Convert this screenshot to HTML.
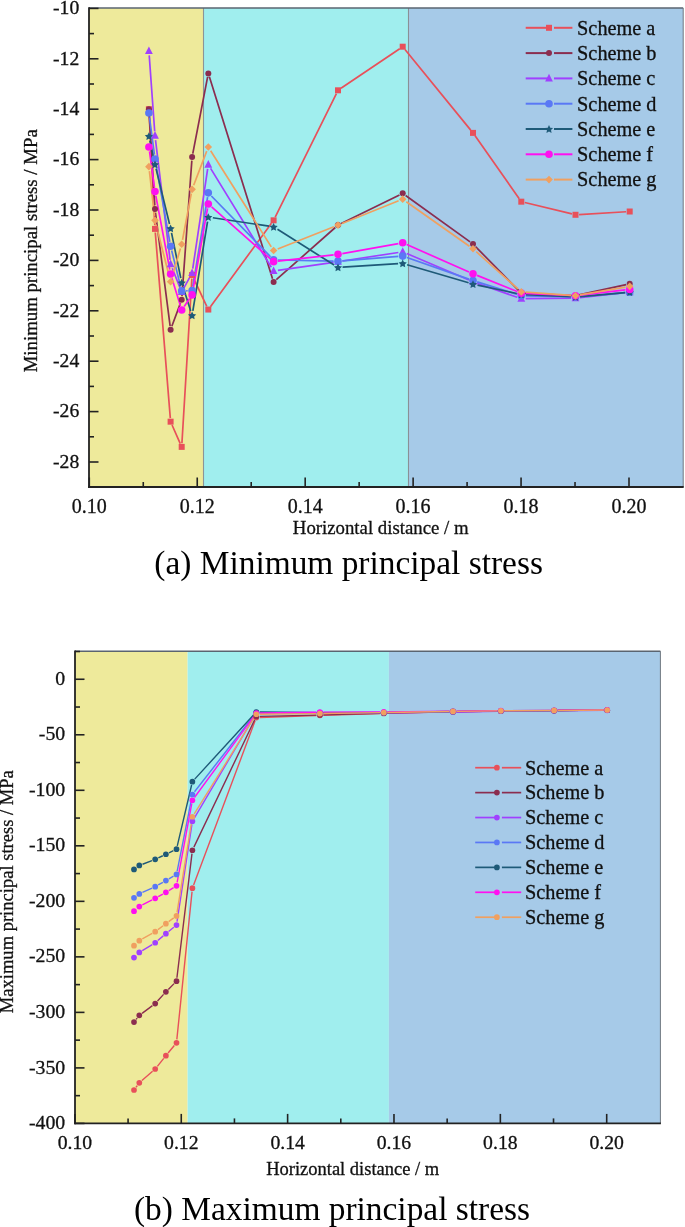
<!DOCTYPE html>
<html><head><meta charset="utf-8"><title>Principal stress charts</title>
<style>
html,body{margin:0;padding:0;background:#fff;}
body{width:685px;height:1227px;overflow:hidden;}
svg{display:block;will-change:transform;filter:blur(0.35px);}
text{font-family:"Liberation Serif", serif;fill:#000;}
.ct text{fill:#111;stroke:#111;stroke-width:0.3px;}
</style></head>
<body>
<svg width="685" height="1227" viewBox="0 0 685 1227">
<rect width="685" height="1227" fill="#fff"/>
<g class="ct">
<rect x="89.0" y="8.0" width="114.5" height="479.0" fill="#EEEA9B"/>
<rect x="203.5" y="8.0" width="205.0" height="479.0" fill="#A0EEEE"/>
<rect x="408.5" y="8.0" width="274.70000000000005" height="479.0" fill="#A6CAE8"/>
<line x1="203.5" y1="8.0" x2="203.5" y2="487.0" stroke="#8c9498" stroke-width="1.1"/>
<line x1="408.5" y1="8.0" x2="408.5" y2="487.0" stroke="#8a9096" stroke-width="1.1"/>
<line x1="89.0" y1="8.0" x2="683.2" y2="8.0" stroke="#5a6470" stroke-width="1.4"/>
<line x1="683.2" y1="8.0" x2="683.2" y2="487.0" stroke="#707880" stroke-width="1"/>
<path d="M149.08,112.80L154.82,225.30M155.29,232.49L170.31,418.09M172.05,424.97L180.25,443.59M181.92,443.29L191.88,278.61M193.63,278.28L206.77,306.28M210.43,306.64L271.47,223.24M275.20,217.11L336.40,93.53M340.99,88.29L399.71,48.72M404.98,49.49L470.72,130.10M475.07,135.83L519.23,198.74M524.80,202.53L572.00,213.94M579.09,214.57L626.11,211.73" fill="none" stroke="#E8505A" stroke-width="1.7" stroke-linecap="butt"/>
<path d="M149.12,112.79L154.78,205.40M155.46,212.56L170.14,326.13M171.85,326.32L180.45,303.09M181.96,296.12L191.84,160.67M192.78,153.55L207.62,76.95M209.38,76.85L272.52,278.64M276.30,279.69L335.30,227.50M341.23,223.53L399.47,194.95M405.62,195.47L470.08,241.92M475.52,246.59L518.78,290.59M524.90,293.33L571.90,295.51M579.02,294.91L626.18,284.60" fill="none" stroke="#8B2D4F" stroke-width="1.7" stroke-linecap="butt"/>
<path d="M149.22,55.38L154.68,131.27M155.53,140.03L170.07,259.81M172.24,268.26L180.06,287.82M183.82,288.05L189.98,276.85M192.75,268.65L207.65,168.99M210.60,168.39L271.30,267.23M277.95,270.35L333.65,262.29M342.35,261.00L398.35,252.49M406.75,253.56L468.95,280.09M477.15,283.27L517.15,297.25M525.70,298.66L571.10,298.24M579.87,297.71L625.33,292.64" fill="none" stroke="#A040FF" stroke-width="1.7" stroke-linecap="butt"/>
<path d="M149.48,117.34L154.42,154.73M155.77,163.43L169.83,241.96M171.66,250.56L180.64,286.62M186.10,290.79L187.70,290.75M192.82,286.30L207.58,197.20M211.37,196.02L270.53,256.74M278.00,259.98L333.60,261.07M342.39,260.81L398.31,256.46M406.86,257.56L468.84,279.11M477.20,281.87L517.10,294.37M525.70,295.78L571.10,296.84M579.88,296.55L625.32,292.54" fill="none" stroke="#5A78F5" stroke-width="1.7" stroke-linecap="butt"/>
<path d="M149.87,140.66L154.03,159.89M156.09,168.86L169.51,223.93M171.52,232.90L180.78,278.07M183.09,286.96L190.71,310.95M192.85,310.80L207.55,221.59M212.85,217.74L269.05,226.20M277.49,229.34L334.11,265.00M342.59,267.17L398.11,263.71M407.11,264.72L468.59,282.79M477.50,285.05L516.80,293.46M525.90,294.63L570.90,296.73M580.08,296.54L625.12,292.56" fill="none" stroke="#1E5A78" stroke-width="1.7" stroke-linecap="butt"/>
<path d="M149.50,151.36L154.40,187.24M155.82,195.93L169.78,269.68M171.90,278.21L180.40,305.84M184.19,306.42L189.61,298.55M192.87,290.59L207.53,208.28M211.60,206.87L270.30,258.75M277.97,261.16L333.63,254.85M342.33,253.58L398.37,243.54M406.73,244.54L468.97,271.98M477.08,275.40L517.22,291.52M525.70,293.36L571.10,295.48M579.87,295.17L625.33,289.89" fill="none" stroke="#FF10F0" stroke-width="1.7" stroke-linecap="butt"/>
<path d="M149.40,171.03L154.50,215.96M156.08,224.60L169.52,277.56M171.85,277.60L180.45,248.49M182.52,239.95L191.28,193.66M193.67,185.23L206.73,151.11M210.65,150.72L271.25,246.85M277.69,248.95L333.91,226.74M342.08,223.48L398.62,200.80M406.29,201.70L469.41,246.27M476.28,251.74L518.02,288.97M525.69,292.21L571.11,295.37M579.84,294.93L625.36,287.10" fill="none" stroke="#F0A060" stroke-width="1.7" stroke-linecap="butt"/>
<rect x="145.90" y="106.20" width="6.00" height="6.00" fill="#E8505A"/>
<rect x="152.00" y="225.90" width="6.00" height="6.00" fill="#E8505A"/>
<rect x="167.60" y="418.68" width="6.00" height="6.00" fill="#E8505A"/>
<rect x="178.70" y="443.88" width="6.00" height="6.00" fill="#E8505A"/>
<rect x="189.10" y="272.02" width="6.00" height="6.00" fill="#E8505A"/>
<rect x="205.30" y="306.54" width="6.00" height="6.00" fill="#E8505A"/>
<rect x="270.60" y="217.33" width="6.00" height="6.00" fill="#E8505A"/>
<rect x="335.00" y="87.30" width="6.00" height="6.00" fill="#E8505A"/>
<rect x="399.70" y="43.70" width="6.00" height="6.00" fill="#E8505A"/>
<rect x="470.00" y="129.89" width="6.00" height="6.00" fill="#E8505A"/>
<rect x="518.30" y="198.68" width="6.00" height="6.00" fill="#E8505A"/>
<rect x="572.50" y="211.79" width="6.00" height="6.00" fill="#E8505A"/>
<rect x="626.70" y="208.51" width="6.00" height="6.00" fill="#E8505A"/>
<circle cx="148.90" cy="109.20" r="3.00" fill="#8B2D4F"/>
<circle cx="155.00" cy="208.99" r="3.00" fill="#8B2D4F"/>
<circle cx="170.60" cy="329.70" r="3.00" fill="#8B2D4F"/>
<circle cx="181.70" cy="299.71" r="3.00" fill="#8B2D4F"/>
<circle cx="192.10" cy="157.08" r="3.00" fill="#8B2D4F"/>
<circle cx="208.30" cy="73.42" r="3.00" fill="#8B2D4F"/>
<circle cx="273.60" cy="282.07" r="3.00" fill="#8B2D4F"/>
<circle cx="338.00" cy="225.12" r="3.00" fill="#8B2D4F"/>
<circle cx="402.70" cy="193.37" r="3.00" fill="#8B2D4F"/>
<circle cx="473.00" cy="244.02" r="3.00" fill="#8B2D4F"/>
<circle cx="521.30" cy="293.16" r="3.00" fill="#8B2D4F"/>
<circle cx="575.50" cy="295.68" r="3.00" fill="#8B2D4F"/>
<circle cx="629.70" cy="283.84" r="3.00" fill="#8B2D4F"/>
<path d="M148.90,46.39 L152.80,53.99 L145.00,53.99Z" fill="#A040FF"/>
<path d="M155.00,131.06 L158.90,138.66 L151.10,138.66Z" fill="#A040FF"/>
<path d="M170.60,259.58 L174.50,267.18 L166.70,267.18Z" fill="#A040FF"/>
<path d="M181.70,287.30 L185.60,294.90 L177.80,294.90Z" fill="#A040FF"/>
<path d="M192.10,268.40 L196.00,276.00 L188.20,276.00Z" fill="#A040FF"/>
<path d="M208.30,160.04 L212.20,167.64 L204.40,167.64Z" fill="#A040FF"/>
<path d="M273.60,266.38 L277.50,273.98 L269.70,273.98Z" fill="#A040FF"/>
<path d="M338.00,257.06 L341.90,264.66 L334.10,264.66Z" fill="#A040FF"/>
<path d="M402.70,247.23 L406.60,254.83 L398.80,254.83Z" fill="#A040FF"/>
<path d="M473.00,277.22 L476.90,284.82 L469.10,284.82Z" fill="#A040FF"/>
<path d="M521.30,294.10 L525.20,301.70 L517.40,301.70Z" fill="#A040FF"/>
<path d="M575.50,293.60 L579.40,301.20 L571.60,301.20Z" fill="#A040FF"/>
<path d="M629.70,287.55 L633.60,295.15 L625.80,295.15Z" fill="#A040FF"/>
<circle cx="148.90" cy="112.98" r="3.80" fill="#5A78F5"/>
<circle cx="155.00" cy="159.10" r="3.80" fill="#5A78F5"/>
<circle cx="170.60" cy="246.29" r="3.80" fill="#5A78F5"/>
<circle cx="181.70" cy="290.89" r="3.80" fill="#5A78F5"/>
<circle cx="192.10" cy="290.64" r="3.80" fill="#5A78F5"/>
<circle cx="208.30" cy="192.86" r="3.80" fill="#5A78F5"/>
<circle cx="273.60" cy="259.90" r="3.80" fill="#5A78F5"/>
<circle cx="338.00" cy="261.16" r="3.80" fill="#5A78F5"/>
<circle cx="402.70" cy="256.12" r="3.80" fill="#5A78F5"/>
<circle cx="473.00" cy="280.56" r="3.80" fill="#5A78F5"/>
<circle cx="521.30" cy="295.68" r="3.80" fill="#5A78F5"/>
<circle cx="575.50" cy="296.94" r="3.80" fill="#5A78F5"/>
<circle cx="629.70" cy="292.15" r="3.80" fill="#5A78F5"/>
<polygon points="148.90,132.26 150.16,134.82 152.99,135.24 150.94,137.23 151.43,140.04 148.90,138.71 146.37,140.04 146.86,137.23 144.81,135.24 147.64,134.82" fill="#1E5A78"/>
<polygon points="155.00,160.49 156.26,163.05 159.09,163.46 157.04,165.45 157.53,168.27 155.00,166.94 152.47,168.27 152.96,165.45 150.91,163.46 153.74,163.05" fill="#1E5A78"/>
<polygon points="170.60,224.50 171.86,227.06 174.69,227.47 172.64,229.46 173.13,232.27 170.60,230.95 168.07,232.27 168.56,229.46 166.51,227.47 169.34,227.06" fill="#1E5A78"/>
<polygon points="181.70,278.68 182.96,281.24 185.79,281.65 183.74,283.64 184.23,286.45 181.70,285.13 179.17,286.45 179.66,283.64 177.61,281.65 180.44,281.24" fill="#1E5A78"/>
<polygon points="192.10,311.44 193.36,314.00 196.19,314.41 194.14,316.40 194.63,319.21 192.10,317.89 189.57,319.21 190.06,316.40 188.01,314.41 190.84,314.00" fill="#1E5A78"/>
<polygon points="208.30,213.16 209.56,215.72 212.39,216.13 210.34,218.12 210.83,220.93 208.30,219.61 205.77,220.93 206.26,218.12 204.21,216.13 207.04,215.72" fill="#1E5A78"/>
<polygon points="273.60,222.98 274.86,225.54 277.69,225.96 275.64,227.95 276.13,230.76 273.60,229.43 271.07,230.76 271.56,227.95 269.51,225.96 272.34,225.54" fill="#1E5A78"/>
<polygon points="338.00,263.56 339.26,266.12 342.09,266.53 340.04,268.52 340.53,271.33 338.00,270.01 335.47,271.33 335.96,268.52 333.91,266.53 336.74,266.12" fill="#1E5A78"/>
<polygon points="402.70,259.52 403.96,262.08 406.79,262.50 404.74,264.49 405.23,267.30 402.70,265.97 400.17,267.30 400.66,264.49 398.61,262.50 401.44,262.08" fill="#1E5A78"/>
<polygon points="473.00,280.19 474.26,282.75 477.09,283.16 475.04,285.15 475.53,287.97 473.00,286.64 470.47,287.97 470.96,285.15 468.91,283.16 471.74,282.75" fill="#1E5A78"/>
<polygon points="521.30,290.52 522.56,293.08 525.39,293.49 523.34,295.48 523.83,298.30 521.30,296.97 518.77,298.30 519.26,295.48 517.21,293.49 520.04,293.08" fill="#1E5A78"/>
<polygon points="575.50,293.04 576.76,295.60 579.59,296.01 577.54,298.00 578.03,300.82 575.50,299.49 572.97,300.82 573.46,298.00 571.41,296.01 574.24,295.60" fill="#1E5A78"/>
<polygon points="629.70,288.25 630.96,290.81 633.79,291.22 631.74,293.22 632.23,296.03 629.70,294.70 627.17,296.03 627.66,293.22 625.61,291.22 628.44,290.81" fill="#1E5A78"/>
<circle cx="148.90" cy="147.00" r="3.80" fill="#FF10F0"/>
<circle cx="155.00" cy="191.60" r="3.80" fill="#FF10F0"/>
<circle cx="170.60" cy="274.01" r="3.80" fill="#FF10F0"/>
<circle cx="181.70" cy="310.04" r="3.80" fill="#FF10F0"/>
<circle cx="192.10" cy="294.92" r="3.80" fill="#FF10F0"/>
<circle cx="208.30" cy="203.95" r="3.80" fill="#FF10F0"/>
<circle cx="273.60" cy="261.66" r="3.80" fill="#FF10F0"/>
<circle cx="338.00" cy="254.35" r="3.80" fill="#FF10F0"/>
<circle cx="402.70" cy="242.76" r="3.80" fill="#FF10F0"/>
<circle cx="473.00" cy="273.76" r="3.80" fill="#FF10F0"/>
<circle cx="521.30" cy="293.16" r="3.80" fill="#FF10F0"/>
<circle cx="575.50" cy="295.68" r="3.80" fill="#FF10F0"/>
<circle cx="629.70" cy="289.38" r="3.80" fill="#FF10F0"/>
<path d="M148.90,162.86 L152.70,166.66 L148.90,170.46 L145.10,166.66Z" fill="#F0A060"/>
<path d="M155.00,216.53 L158.80,220.33 L155.00,224.13 L151.20,220.33Z" fill="#F0A060"/>
<path d="M170.60,278.02 L174.40,281.82 L170.60,285.62 L166.80,281.82Z" fill="#F0A060"/>
<path d="M181.70,240.47 L185.50,244.27 L181.70,248.07 L177.90,244.27Z" fill="#F0A060"/>
<path d="M192.10,185.54 L195.90,189.34 L192.10,193.14 L188.30,189.34Z" fill="#F0A060"/>
<path d="M208.30,143.20 L212.10,147.00 L208.30,150.80 L204.50,147.00Z" fill="#F0A060"/>
<path d="M273.60,246.77 L277.40,250.57 L273.60,254.37 L269.80,250.57Z" fill="#F0A060"/>
<path d="M338.00,221.32 L341.80,225.12 L338.00,228.92 L334.20,225.12Z" fill="#F0A060"/>
<path d="M402.70,195.36 L406.50,199.16 L402.70,202.96 L398.90,199.16Z" fill="#F0A060"/>
<path d="M473.00,245.01 L476.80,248.81 L473.00,252.61 L469.20,248.81Z" fill="#F0A060"/>
<path d="M521.30,288.10 L525.10,291.90 L521.30,295.70 L517.50,291.90Z" fill="#F0A060"/>
<path d="M575.50,291.88 L579.30,295.68 L575.50,299.48 L571.70,295.68Z" fill="#F0A060"/>
<path d="M629.70,282.56 L633.50,286.36 L629.70,290.16 L625.90,286.36Z" fill="#F0A060"/>
<line x1="89.0" y1="7.3" x2="89.0" y2="487.9" stroke="#222" stroke-width="1.8"/>
<line x1="88.1" y1="487.0" x2="683.7" y2="487.0" stroke="#222" stroke-width="1.8"/>
<line x1="89.0" y1="8.40" x2="98.5" y2="8.40" stroke="#222" stroke-width="1.6"/>
<line x1="89.0" y1="58.80" x2="98.5" y2="58.80" stroke="#222" stroke-width="1.6"/>
<line x1="89.0" y1="109.20" x2="98.5" y2="109.20" stroke="#222" stroke-width="1.6"/>
<line x1="89.0" y1="159.60" x2="98.5" y2="159.60" stroke="#222" stroke-width="1.6"/>
<line x1="89.0" y1="210.00" x2="98.5" y2="210.00" stroke="#222" stroke-width="1.6"/>
<line x1="89.0" y1="260.40" x2="98.5" y2="260.40" stroke="#222" stroke-width="1.6"/>
<line x1="89.0" y1="310.80" x2="98.5" y2="310.80" stroke="#222" stroke-width="1.6"/>
<line x1="89.0" y1="361.20" x2="98.5" y2="361.20" stroke="#222" stroke-width="1.6"/>
<line x1="89.0" y1="411.60" x2="98.5" y2="411.60" stroke="#222" stroke-width="1.6"/>
<line x1="89.0" y1="462.00" x2="98.5" y2="462.00" stroke="#222" stroke-width="1.6"/>
<line x1="89.0" y1="33.60" x2="94.0" y2="33.60" stroke="#222" stroke-width="1.6"/>
<line x1="89.0" y1="84.00" x2="94.0" y2="84.00" stroke="#222" stroke-width="1.6"/>
<line x1="89.0" y1="134.40" x2="94.0" y2="134.40" stroke="#222" stroke-width="1.6"/>
<line x1="89.0" y1="184.80" x2="94.0" y2="184.80" stroke="#222" stroke-width="1.6"/>
<line x1="89.0" y1="235.20" x2="94.0" y2="235.20" stroke="#222" stroke-width="1.6"/>
<line x1="89.0" y1="285.60" x2="94.0" y2="285.60" stroke="#222" stroke-width="1.6"/>
<line x1="89.0" y1="336.00" x2="94.0" y2="336.00" stroke="#222" stroke-width="1.6"/>
<line x1="89.0" y1="386.40" x2="94.0" y2="386.40" stroke="#222" stroke-width="1.6"/>
<line x1="89.0" y1="436.80" x2="94.0" y2="436.80" stroke="#222" stroke-width="1.6"/>
<line x1="89.0" y1="487.20" x2="94.0" y2="487.20" stroke="#222" stroke-width="1.6"/>
<line x1="89.30" y1="487.0" x2="89.30" y2="477.5" stroke="#222" stroke-width="1.6"/>
<line x1="143.27" y1="487.0" x2="143.27" y2="482.0" stroke="#222" stroke-width="1.6"/>
<line x1="197.24" y1="487.0" x2="197.24" y2="477.5" stroke="#222" stroke-width="1.6"/>
<line x1="251.21" y1="487.0" x2="251.21" y2="482.0" stroke="#222" stroke-width="1.6"/>
<line x1="305.18" y1="487.0" x2="305.18" y2="477.5" stroke="#222" stroke-width="1.6"/>
<line x1="359.15" y1="487.0" x2="359.15" y2="482.0" stroke="#222" stroke-width="1.6"/>
<line x1="413.12" y1="487.0" x2="413.12" y2="477.5" stroke="#222" stroke-width="1.6"/>
<line x1="467.09" y1="487.0" x2="467.09" y2="482.0" stroke="#222" stroke-width="1.6"/>
<line x1="521.06" y1="487.0" x2="521.06" y2="477.5" stroke="#222" stroke-width="1.6"/>
<line x1="575.03" y1="487.0" x2="575.03" y2="482.0" stroke="#222" stroke-width="1.6"/>
<line x1="629.00" y1="487.0" x2="629.00" y2="477.5" stroke="#222" stroke-width="1.6"/>
<text x="79.30" y="14.20" font-size="19.7" text-anchor="end" >-10</text>
<text x="79.30" y="64.60" font-size="19.7" text-anchor="end" >-12</text>
<text x="79.30" y="115.00" font-size="19.7" text-anchor="end" >-14</text>
<text x="79.30" y="165.40" font-size="19.7" text-anchor="end" >-16</text>
<text x="79.30" y="215.80" font-size="19.7" text-anchor="end" >-18</text>
<text x="79.30" y="266.20" font-size="19.7" text-anchor="end" >-20</text>
<text x="79.30" y="316.60" font-size="19.7" text-anchor="end" >-22</text>
<text x="79.30" y="367.00" font-size="19.7" text-anchor="end" >-24</text>
<text x="79.30" y="417.40" font-size="19.7" text-anchor="end" >-26</text>
<text x="79.30" y="467.80" font-size="19.7" text-anchor="end" >-28</text>
<text x="89.30" y="513.00" font-size="20.0" text-anchor="middle" >0.10</text>
<text x="197.24" y="513.00" font-size="20.0" text-anchor="middle" >0.12</text>
<text x="305.18" y="513.00" font-size="20.0" text-anchor="middle" >0.14</text>
<text x="413.12" y="513.00" font-size="20.0" text-anchor="middle" >0.16</text>
<text x="521.06" y="513.00" font-size="20.0" text-anchor="middle" >0.18</text>
<text x="629.00" y="513.00" font-size="20.0" text-anchor="middle" >0.20</text>
<text x="380.70" y="533.60" font-size="18.8" text-anchor="middle" >Horizontal distance / m</text>
<text x="0" y="0" font-size="18.8" text-anchor="middle" transform="translate(37.1,250.8) rotate(-90)">Minimum principal stress / MPa</text>
<line x1="525.7" y1="27.80" x2="549.0" y2="27.80" stroke="#E8505A" stroke-width="2.0"/>
<line x1="554.00" y1="27.80" x2="572.4" y2="27.80" stroke="#E8505A" stroke-width="2.0"/>
<rect x="546.00" y="24.80" width="6.00" height="6.00" fill="#E8505A"/>
<text x="577.10" y="34.60" font-size="20.3" text-anchor="start" >Scheme a</text>
<line x1="525.7" y1="53.10" x2="549.0" y2="53.10" stroke="#8B2D4F" stroke-width="2.0"/>
<line x1="554.00" y1="53.10" x2="572.4" y2="53.10" stroke="#8B2D4F" stroke-width="2.0"/>
<circle cx="549.00" cy="53.10" r="3.00" fill="#8B2D4F"/>
<text x="577.10" y="59.90" font-size="20.3" text-anchor="start" >Scheme b</text>
<line x1="525.7" y1="78.40" x2="549.0" y2="78.40" stroke="#A040FF" stroke-width="2.0"/>
<line x1="554.00" y1="78.40" x2="572.4" y2="78.40" stroke="#A040FF" stroke-width="2.0"/>
<path d="M549.00,73.80 L552.90,81.40 L545.10,81.40Z" fill="#A040FF"/>
<text x="577.10" y="85.20" font-size="20.3" text-anchor="start" >Scheme c</text>
<line x1="525.7" y1="103.70" x2="549.0" y2="103.70" stroke="#5A78F5" stroke-width="2.0"/>
<line x1="554.00" y1="103.70" x2="572.4" y2="103.70" stroke="#5A78F5" stroke-width="2.0"/>
<circle cx="549.00" cy="103.70" r="3.80" fill="#5A78F5"/>
<text x="577.10" y="110.50" font-size="20.3" text-anchor="start" >Scheme d</text>
<line x1="525.7" y1="129.00" x2="549.0" y2="129.00" stroke="#1E5A78" stroke-width="2.0"/>
<line x1="554.00" y1="129.00" x2="572.4" y2="129.00" stroke="#1E5A78" stroke-width="2.0"/>
<polygon points="549.00,125.10 550.26,127.66 553.09,128.07 551.04,130.06 551.53,132.88 549.00,131.55 546.47,132.88 546.96,130.06 544.91,128.07 547.74,127.66" fill="#1E5A78"/>
<text x="577.10" y="135.80" font-size="20.3" text-anchor="start" >Scheme e</text>
<line x1="525.7" y1="154.30" x2="549.0" y2="154.30" stroke="#FF10F0" stroke-width="2.0"/>
<line x1="554.00" y1="154.30" x2="572.4" y2="154.30" stroke="#FF10F0" stroke-width="2.0"/>
<circle cx="549.00" cy="154.30" r="3.80" fill="#FF10F0"/>
<text x="577.10" y="161.10" font-size="20.3" text-anchor="start" >Scheme f</text>
<line x1="525.7" y1="179.60" x2="549.0" y2="179.60" stroke="#F0A060" stroke-width="2.0"/>
<line x1="554.00" y1="179.60" x2="572.4" y2="179.60" stroke="#F0A060" stroke-width="2.0"/>
<path d="M549.00,175.80 L552.80,179.60 L549.00,183.40 L545.20,179.60Z" fill="#F0A060"/>
<text x="577.10" y="186.40" font-size="20.3" text-anchor="start" >Scheme g</text>
<rect x="75.0" y="651.2" width="112.6" height="472.20000000000005" fill="#EEEA9B"/>
<rect x="187.6" y="651.2" width="201.29999999999998" height="472.20000000000005" fill="#A0EEEE"/>
<rect x="388.9" y="651.2" width="271.5" height="472.20000000000005" fill="#A6CAE8"/>
<line x1="75.0" y1="651.2" x2="660.4" y2="651.2" stroke="#5a6470" stroke-width="1.4"/>
<line x1="660.4" y1="651.2" x2="660.4" y2="1123.4" stroke="#707880" stroke-width="1"/>
<path d="M136.04,1087.22L137.26,1085.56M141.91,1080.52L152.59,1071.27M157.36,1066.32L163.74,1058.38M168.09,1053.02L174.31,1045.47M176.85,1039.37L192.05,891.56M193.61,884.90L255.09,720.80M259.75,717.45L316.45,715.47M323.35,715.25L380.35,713.56M387.25,713.38L449.55,711.88M456.45,711.74L497.45,711.07M504.35,710.99L550.65,710.60M557.55,710.54L603.75,710.16" fill="none" stroke="#E8505A" stroke-width="1.4" stroke-linecap="butt"/>
<path d="M136.15,1019.34L137.15,1018.08M142.07,1013.33L152.43,1005.66M157.52,1001.06L163.58,994.39M168.33,989.39L174.07,983.62M176.92,977.75L191.98,853.69M193.89,847.15L254.81,719.57M259.75,716.38L316.45,715.09M323.35,714.92L380.35,713.33M387.25,713.17L449.55,711.87M456.45,711.74L497.45,711.07M504.35,710.99L550.65,710.60M557.55,710.54L603.75,710.16" fill="none" stroke="#8B2D4F" stroke-width="1.4" stroke-linecap="butt"/>
<path d="M142.25,950.63L152.25,944.55M157.83,940.52L163.27,935.89M168.59,931.49L173.81,927.27M177.02,921.69L191.88,824.69M194.15,818.31L254.55,716.10M259.75,713.13L316.45,713.23M323.35,713.21L380.35,712.82M387.25,712.76L449.55,712.06M456.45,711.96L497.45,711.30M504.35,711.21L550.65,710.82M557.55,710.77L603.75,710.38" fill="none" stroke="#A040FF" stroke-width="1.4" stroke-linecap="butt"/>
<path d="M142.44,892.47L152.06,888.11M158.20,884.97L162.90,882.29M168.89,878.85L173.51,876.19M177.17,871.08L191.73,797.90M194.52,791.80L254.18,715.29M259.75,712.57L316.45,712.57M323.35,712.56L380.35,712.36M387.25,712.31L449.55,711.51M456.45,711.41L497.45,710.84M504.35,710.77L550.65,710.48M557.55,710.43L603.75,710.05" fill="none" stroke="#5A78F5" stroke-width="1.4" stroke-linecap="butt"/>
<path d="M142.52,864.24L151.98,860.60M158.31,857.88L162.79,855.75M169.01,852.76L173.39,850.65M177.29,845.79L191.61,785.00M194.73,779.10L253.97,714.56M259.75,712.06L316.45,712.75M323.35,712.78L380.35,712.58M387.25,712.52L449.55,711.52M456.45,711.42L497.45,710.95M504.35,710.88L550.65,710.59M557.55,710.54L603.75,710.16" fill="none" stroke="#1E5A78" stroke-width="1.4" stroke-linecap="butt"/>
<path d="M142.36,904.97L152.14,899.93M158.21,896.66L162.89,894.03M168.83,890.53L173.57,887.61M177.13,882.40L191.77,803.69M194.44,797.51L254.26,715.91M259.75,713.07L316.45,712.18M323.35,712.12L380.35,711.92M387.25,711.87L449.55,711.27M456.45,711.20L497.45,710.72M504.35,710.66L550.65,710.37M557.55,710.32L603.75,709.94" fill="none" stroke="#FF10F0" stroke-width="1.4" stroke-linecap="butt"/>
<path d="M142.30,938.95L152.20,933.35M157.96,929.59L163.14,925.72M168.68,921.62L173.72,917.93M177.05,912.48L191.85,820.13M194.23,813.80L254.47,717.17M259.75,714.20L316.45,713.61M323.35,713.52L380.35,712.63M387.25,712.52L449.55,711.52M456.45,711.41L497.45,710.84M504.35,710.77L550.65,710.48M557.55,710.43L603.75,710.05" fill="none" stroke="#F0A060" stroke-width="1.4" stroke-linecap="butt"/>
<circle cx="134.00" cy="1090.00" r="2.85" fill="#E8505A"/>
<circle cx="139.30" cy="1082.78" r="2.85" fill="#E8505A"/>
<circle cx="155.20" cy="1069.01" r="2.85" fill="#E8505A"/>
<circle cx="165.90" cy="1055.69" r="2.85" fill="#E8505A"/>
<circle cx="176.50" cy="1042.80" r="2.85" fill="#E8505A"/>
<circle cx="192.40" cy="888.13" r="2.85" fill="#E8505A"/>
<circle cx="256.30" cy="717.57" r="2.85" fill="#E8505A"/>
<circle cx="319.90" cy="715.35" r="2.85" fill="#E8505A"/>
<circle cx="383.80" cy="713.46" r="2.85" fill="#E8505A"/>
<circle cx="453.00" cy="711.79" r="2.85" fill="#E8505A"/>
<circle cx="500.90" cy="711.02" r="2.85" fill="#E8505A"/>
<circle cx="554.10" cy="710.57" r="2.85" fill="#E8505A"/>
<circle cx="607.20" cy="710.13" r="2.85" fill="#E8505A"/>
<circle cx="134.00" cy="1022.04" r="2.85" fill="#8B2D4F"/>
<circle cx="139.30" cy="1015.38" r="2.85" fill="#8B2D4F"/>
<circle cx="155.20" cy="1003.61" r="2.85" fill="#8B2D4F"/>
<circle cx="165.90" cy="991.84" r="2.85" fill="#8B2D4F"/>
<circle cx="176.50" cy="981.18" r="2.85" fill="#8B2D4F"/>
<circle cx="192.40" cy="850.26" r="2.85" fill="#8B2D4F"/>
<circle cx="256.30" cy="716.46" r="2.85" fill="#8B2D4F"/>
<circle cx="319.90" cy="715.01" r="2.85" fill="#8B2D4F"/>
<circle cx="383.80" cy="713.24" r="2.85" fill="#8B2D4F"/>
<circle cx="453.00" cy="711.79" r="2.85" fill="#8B2D4F"/>
<circle cx="500.90" cy="711.02" r="2.85" fill="#8B2D4F"/>
<circle cx="554.10" cy="710.57" r="2.85" fill="#8B2D4F"/>
<circle cx="607.20" cy="710.13" r="2.85" fill="#8B2D4F"/>
<circle cx="134.00" cy="957.53" r="2.85" fill="#A040FF"/>
<circle cx="139.30" cy="952.42" r="2.85" fill="#A040FF"/>
<circle cx="155.20" cy="942.76" r="2.85" fill="#A040FF"/>
<circle cx="165.90" cy="933.65" r="2.85" fill="#A040FF"/>
<circle cx="176.50" cy="925.10" r="2.85" fill="#A040FF"/>
<circle cx="192.40" cy="821.28" r="2.85" fill="#A040FF"/>
<circle cx="256.30" cy="713.13" r="2.85" fill="#A040FF"/>
<circle cx="319.90" cy="713.24" r="2.85" fill="#A040FF"/>
<circle cx="383.80" cy="712.79" r="2.85" fill="#A040FF"/>
<circle cx="453.00" cy="712.02" r="2.85" fill="#A040FF"/>
<circle cx="500.90" cy="711.24" r="2.85" fill="#A040FF"/>
<circle cx="554.10" cy="710.80" r="2.85" fill="#A040FF"/>
<circle cx="607.20" cy="710.35" r="2.85" fill="#A040FF"/>
<circle cx="134.00" cy="897.79" r="2.85" fill="#5A78F5"/>
<circle cx="139.30" cy="893.90" r="2.85" fill="#5A78F5"/>
<circle cx="155.20" cy="886.68" r="2.85" fill="#5A78F5"/>
<circle cx="165.90" cy="880.58" r="2.85" fill="#5A78F5"/>
<circle cx="176.50" cy="874.47" r="2.85" fill="#5A78F5"/>
<circle cx="192.40" cy="794.52" r="2.85" fill="#5A78F5"/>
<circle cx="256.30" cy="712.57" r="2.85" fill="#5A78F5"/>
<circle cx="319.90" cy="712.57" r="2.85" fill="#5A78F5"/>
<circle cx="383.80" cy="712.35" r="2.85" fill="#5A78F5"/>
<circle cx="453.00" cy="711.46" r="2.85" fill="#5A78F5"/>
<circle cx="500.90" cy="710.80" r="2.85" fill="#5A78F5"/>
<circle cx="554.10" cy="710.46" r="2.85" fill="#5A78F5"/>
<circle cx="607.20" cy="710.02" r="2.85" fill="#5A78F5"/>
<circle cx="134.00" cy="869.47" r="2.85" fill="#1E5A78"/>
<circle cx="139.30" cy="865.47" r="2.85" fill="#1E5A78"/>
<circle cx="155.20" cy="859.37" r="2.85" fill="#1E5A78"/>
<circle cx="165.90" cy="854.26" r="2.85" fill="#1E5A78"/>
<circle cx="176.50" cy="849.15" r="2.85" fill="#1E5A78"/>
<circle cx="192.40" cy="781.64" r="2.85" fill="#1E5A78"/>
<circle cx="256.30" cy="712.02" r="2.85" fill="#1E5A78"/>
<circle cx="319.90" cy="712.79" r="2.85" fill="#1E5A78"/>
<circle cx="383.80" cy="712.57" r="2.85" fill="#1E5A78"/>
<circle cx="453.00" cy="711.46" r="2.85" fill="#1E5A78"/>
<circle cx="500.90" cy="710.91" r="2.85" fill="#1E5A78"/>
<circle cx="554.10" cy="710.57" r="2.85" fill="#1E5A78"/>
<circle cx="607.20" cy="710.13" r="2.85" fill="#1E5A78"/>
<circle cx="134.00" cy="911.22" r="2.85" fill="#FF10F0"/>
<circle cx="139.30" cy="906.56" r="2.85" fill="#FF10F0"/>
<circle cx="155.20" cy="898.34" r="2.85" fill="#FF10F0"/>
<circle cx="165.90" cy="892.35" r="2.85" fill="#FF10F0"/>
<circle cx="176.50" cy="885.79" r="2.85" fill="#FF10F0"/>
<circle cx="192.40" cy="800.29" r="2.85" fill="#FF10F0"/>
<circle cx="256.30" cy="713.13" r="2.85" fill="#FF10F0"/>
<circle cx="319.90" cy="712.13" r="2.85" fill="#FF10F0"/>
<circle cx="383.80" cy="711.91" r="2.85" fill="#FF10F0"/>
<circle cx="453.00" cy="711.24" r="2.85" fill="#FF10F0"/>
<circle cx="500.90" cy="710.68" r="2.85" fill="#FF10F0"/>
<circle cx="554.10" cy="710.35" r="2.85" fill="#FF10F0"/>
<circle cx="607.20" cy="709.91" r="2.85" fill="#FF10F0"/>
<circle cx="134.00" cy="945.64" r="2.85" fill="#F0A060"/>
<circle cx="139.30" cy="940.65" r="2.85" fill="#F0A060"/>
<circle cx="155.20" cy="931.65" r="2.85" fill="#F0A060"/>
<circle cx="165.90" cy="923.66" r="2.85" fill="#F0A060"/>
<circle cx="176.50" cy="915.89" r="2.85" fill="#F0A060"/>
<circle cx="192.40" cy="816.73" r="2.85" fill="#F0A060"/>
<circle cx="256.30" cy="714.24" r="2.85" fill="#F0A060"/>
<circle cx="319.90" cy="713.57" r="2.85" fill="#F0A060"/>
<circle cx="383.80" cy="712.57" r="2.85" fill="#F0A060"/>
<circle cx="453.00" cy="711.46" r="2.85" fill="#F0A060"/>
<circle cx="500.90" cy="710.80" r="2.85" fill="#F0A060"/>
<circle cx="554.10" cy="710.46" r="2.85" fill="#F0A060"/>
<circle cx="607.20" cy="710.02" r="2.85" fill="#F0A060"/>
<line x1="75.0" y1="650.5" x2="75.0" y2="1124.3000000000002" stroke="#222" stroke-width="1.8"/>
<line x1="74.1" y1="1123.4" x2="660.9" y2="1123.4" stroke="#222" stroke-width="1.8"/>
<line x1="75.0" y1="679.26" x2="84.5" y2="679.26" stroke="#222" stroke-width="1.6"/>
<line x1="75.0" y1="734.78" x2="84.5" y2="734.78" stroke="#222" stroke-width="1.6"/>
<line x1="75.0" y1="790.30" x2="84.5" y2="790.30" stroke="#222" stroke-width="1.6"/>
<line x1="75.0" y1="845.82" x2="84.5" y2="845.82" stroke="#222" stroke-width="1.6"/>
<line x1="75.0" y1="901.34" x2="84.5" y2="901.34" stroke="#222" stroke-width="1.6"/>
<line x1="75.0" y1="956.86" x2="84.5" y2="956.86" stroke="#222" stroke-width="1.6"/>
<line x1="75.0" y1="1012.38" x2="84.5" y2="1012.38" stroke="#222" stroke-width="1.6"/>
<line x1="75.0" y1="1067.90" x2="84.5" y2="1067.90" stroke="#222" stroke-width="1.6"/>
<line x1="75.0" y1="1123.42" x2="84.5" y2="1123.42" stroke="#222" stroke-width="1.6"/>
<line x1="75.0" y1="651.50" x2="80.0" y2="651.50" stroke="#222" stroke-width="1.6"/>
<line x1="75.0" y1="707.02" x2="80.0" y2="707.02" stroke="#222" stroke-width="1.6"/>
<line x1="75.0" y1="762.54" x2="80.0" y2="762.54" stroke="#222" stroke-width="1.6"/>
<line x1="75.0" y1="818.06" x2="80.0" y2="818.06" stroke="#222" stroke-width="1.6"/>
<line x1="75.0" y1="873.58" x2="80.0" y2="873.58" stroke="#222" stroke-width="1.6"/>
<line x1="75.0" y1="929.10" x2="80.0" y2="929.10" stroke="#222" stroke-width="1.6"/>
<line x1="75.0" y1="984.62" x2="80.0" y2="984.62" stroke="#222" stroke-width="1.6"/>
<line x1="75.0" y1="1040.14" x2="80.0" y2="1040.14" stroke="#222" stroke-width="1.6"/>
<line x1="75.0" y1="1095.66" x2="80.0" y2="1095.66" stroke="#222" stroke-width="1.6"/>
<line x1="74.90" y1="1123.4" x2="74.90" y2="1113.9" stroke="#222" stroke-width="1.6"/>
<line x1="128.08" y1="1123.4" x2="128.08" y2="1118.4" stroke="#222" stroke-width="1.6"/>
<line x1="181.26" y1="1123.4" x2="181.26" y2="1113.9" stroke="#222" stroke-width="1.6"/>
<line x1="234.44" y1="1123.4" x2="234.44" y2="1118.4" stroke="#222" stroke-width="1.6"/>
<line x1="287.62" y1="1123.4" x2="287.62" y2="1113.9" stroke="#222" stroke-width="1.6"/>
<line x1="340.80" y1="1123.4" x2="340.80" y2="1118.4" stroke="#222" stroke-width="1.6"/>
<line x1="393.98" y1="1123.4" x2="393.98" y2="1113.9" stroke="#222" stroke-width="1.6"/>
<line x1="447.16" y1="1123.4" x2="447.16" y2="1118.4" stroke="#222" stroke-width="1.6"/>
<line x1="500.34" y1="1123.4" x2="500.34" y2="1113.9" stroke="#222" stroke-width="1.6"/>
<line x1="553.52" y1="1123.4" x2="553.52" y2="1118.4" stroke="#222" stroke-width="1.6"/>
<line x1="606.70" y1="1123.4" x2="606.70" y2="1113.9" stroke="#222" stroke-width="1.6"/>
<text x="65.20" y="684.86" font-size="19.8" text-anchor="end" >0</text>
<text x="65.20" y="740.38" font-size="19.8" text-anchor="end" >-50</text>
<text x="65.20" y="795.90" font-size="19.8" text-anchor="end" >-100</text>
<text x="65.20" y="851.42" font-size="19.8" text-anchor="end" >-150</text>
<text x="65.20" y="906.94" font-size="19.8" text-anchor="end" >-200</text>
<text x="65.20" y="962.46" font-size="19.8" text-anchor="end" >-250</text>
<text x="65.20" y="1017.98" font-size="19.8" text-anchor="end" >-300</text>
<text x="65.20" y="1073.50" font-size="19.8" text-anchor="end" >-350</text>
<text x="65.20" y="1129.02" font-size="19.8" text-anchor="end" >-400</text>
<text x="74.90" y="1148.60" font-size="19.7" text-anchor="middle" >0.10</text>
<text x="181.26" y="1148.60" font-size="19.7" text-anchor="middle" >0.12</text>
<text x="287.62" y="1148.60" font-size="19.7" text-anchor="middle" >0.14</text>
<text x="393.98" y="1148.60" font-size="19.7" text-anchor="middle" >0.16</text>
<text x="500.34" y="1148.60" font-size="19.7" text-anchor="middle" >0.18</text>
<text x="606.70" y="1148.60" font-size="19.7" text-anchor="middle" >0.20</text>
<text x="352.70" y="1175.30" font-size="18.5" text-anchor="middle" >Horizontal distance / m</text>
<text x="0" y="0" font-size="18.55" text-anchor="middle" transform="translate(13.1,891.7) rotate(-90)">Maximum principal stress / MPa</text>
<line x1="475.2" y1="767.70" x2="496.9" y2="767.70" stroke="#E8505A" stroke-width="1.7"/>
<line x1="501.90" y1="767.70" x2="521.2" y2="767.70" stroke="#E8505A" stroke-width="1.7"/>
<circle cx="496.90" cy="767.70" r="2.85" fill="#E8505A"/>
<text x="525.00" y="774.50" font-size="20.3" text-anchor="start" >Scheme a</text>
<line x1="475.2" y1="792.62" x2="496.9" y2="792.62" stroke="#8B2D4F" stroke-width="1.7"/>
<line x1="501.90" y1="792.62" x2="521.2" y2="792.62" stroke="#8B2D4F" stroke-width="1.7"/>
<circle cx="496.90" cy="792.62" r="2.85" fill="#8B2D4F"/>
<text x="525.00" y="799.42" font-size="20.3" text-anchor="start" >Scheme b</text>
<line x1="475.2" y1="817.54" x2="496.9" y2="817.54" stroke="#A040FF" stroke-width="1.7"/>
<line x1="501.90" y1="817.54" x2="521.2" y2="817.54" stroke="#A040FF" stroke-width="1.7"/>
<circle cx="496.90" cy="817.54" r="2.85" fill="#A040FF"/>
<text x="525.00" y="824.34" font-size="20.3" text-anchor="start" >Scheme c</text>
<line x1="475.2" y1="842.46" x2="496.9" y2="842.46" stroke="#5A78F5" stroke-width="1.7"/>
<line x1="501.90" y1="842.46" x2="521.2" y2="842.46" stroke="#5A78F5" stroke-width="1.7"/>
<circle cx="496.90" cy="842.46" r="2.85" fill="#5A78F5"/>
<text x="525.00" y="849.26" font-size="20.3" text-anchor="start" >Scheme d</text>
<line x1="475.2" y1="867.38" x2="496.9" y2="867.38" stroke="#1E5A78" stroke-width="1.7"/>
<line x1="501.90" y1="867.38" x2="521.2" y2="867.38" stroke="#1E5A78" stroke-width="1.7"/>
<circle cx="496.90" cy="867.38" r="2.85" fill="#1E5A78"/>
<text x="525.00" y="874.18" font-size="20.3" text-anchor="start" >Scheme e</text>
<line x1="475.2" y1="892.30" x2="496.9" y2="892.30" stroke="#FF10F0" stroke-width="1.7"/>
<line x1="501.90" y1="892.30" x2="521.2" y2="892.30" stroke="#FF10F0" stroke-width="1.7"/>
<circle cx="496.90" cy="892.30" r="2.85" fill="#FF10F0"/>
<text x="525.00" y="899.10" font-size="20.3" text-anchor="start" >Scheme f</text>
<line x1="475.2" y1="917.22" x2="496.9" y2="917.22" stroke="#F0A060" stroke-width="1.7"/>
<line x1="501.90" y1="917.22" x2="521.2" y2="917.22" stroke="#F0A060" stroke-width="1.7"/>
<circle cx="496.90" cy="917.22" r="2.85" fill="#F0A060"/>
<text x="525.00" y="924.02" font-size="20.3" text-anchor="start" >Scheme g</text>
</g>
<text x="348.60" y="573.80" font-size="33.4" text-anchor="middle" >(a) Minimum principal stress</text>
<text x="332.00" y="1219.60" font-size="33.4" text-anchor="middle" >(b) Maximum principal stress</text>
</svg>
</body></html>
